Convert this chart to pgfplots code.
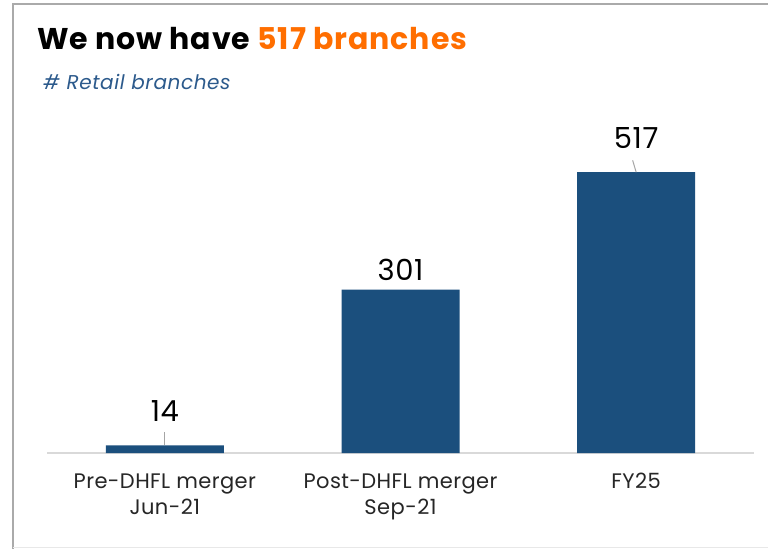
\documentclass[border=0pt]{standalone}
\usepackage{pgfplots}
\pgfplotsset{compat=1.18}
\usepackage{fontspec}
\setmainfont{Poppins}
\newfontfamily\wide[LetterSpace=3.0]{Poppins}
\newfontfamily\widelab[LetterSpace=2.0]{Poppins}
\definecolor{barblue}{RGB}{27,79,125}
\definecolor{subblue}{RGB}{44,90,140}
\definecolor{titleorange}{RGB}{255,110,0}
\definecolor{framegray}{RGB}{170,170,170}
\definecolor{basegray}{RGB}{217,217,217}
\definecolor{leadgray}{RGB}{165,165,165}
\begin{document}
\begin{tikzpicture}
\useasboundingbox (0pt,0pt) rectangle (768pt,-549pt);
\fill[white] (0pt,0pt) rectangle (768pt,-549pt);
\draw[framegray, line width=2pt] (13pt,-549pt) -- (13pt,-4pt) -- (768pt,-4pt);
\draw[basegray!60, line width=1pt] (13pt,-547pt) -- (768pt,-547pt);
\node[anchor=base west, inner sep=0pt, font=\wide\fontsize{30}{34}\selectfont\bfseries] at (37pt,-49pt) {We now have \textcolor{titleorange}{517 branches}};
\node[anchor=base west, inner sep=0pt, font=\wide\fontsize{20}{24}\selectfont\itshape, text=subblue] at (43pt,-89pt) {\# Retail branches};
\begin{axis}[
  at={(47pt,-453pt)}, anchor=south west,
  scale only axis, width=707pt, height=353pt,
  xmin=-0.5, xmax=2.5, ymin=0, ymax=650,
  axis x line=bottom, axis y line=none,
  axis line style={basegray, line width=1.5pt, -},
  xtick=data,
  xticklabels={{Pre-DHFL merger\\Jun-21},{Post-DHFL merger\\Sep-21},{FY25}},
  xticklabel style={align=center, font=\widelab\fontsize{21}{26}\selectfont, text=black!85, anchor=north, yshift=-17pt},
  major tick length=0pt,
  ytick=\empty,
  ybar, bar width=118pt, bar shift=0pt,
  /pgf/number format/assume math mode=true,
  nodes near coords,
  visualization depends on={\thisrow{off} \as \off},
  nodes near coords style={anchor=center, yshift=\off pt, font=\widelab\fontsize{29}{32}\selectfont, text=black},
  clip=false,
]
\addplot[fill=barblue, draw=none] table[x=x, y=y] {
x y off
0 14 34
1 301 20
2 517 34
};
\draw[leadgray, line width=1pt] (axis cs:0,14) -- (axis cs:0,38);
\draw[leadgray, line width=1pt] (axis cs:2,517) -- (axis cs:1.985,539);
\end{axis}
\end{tikzpicture}
\end{document}
